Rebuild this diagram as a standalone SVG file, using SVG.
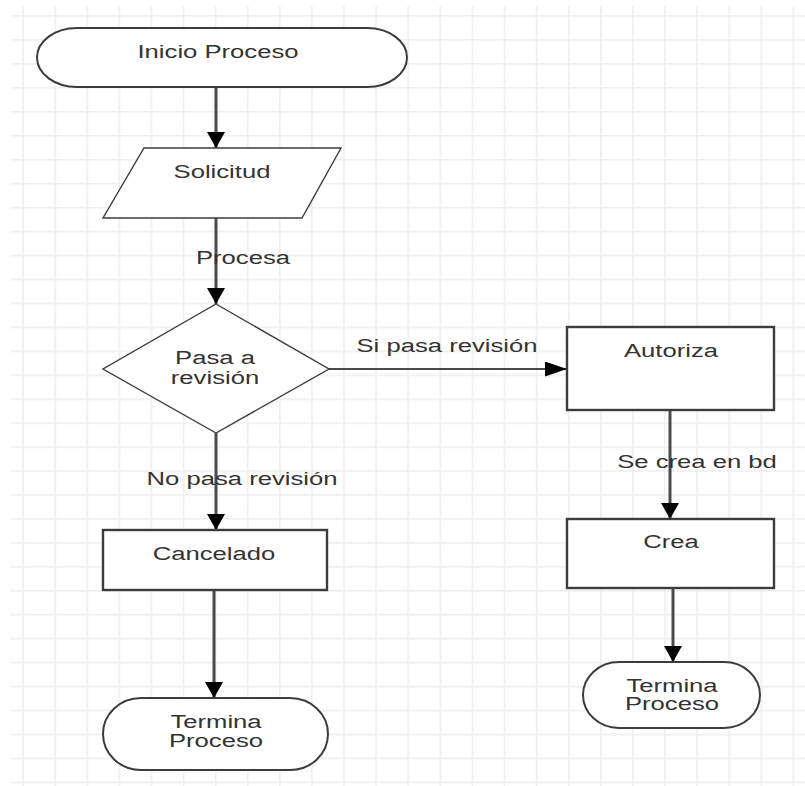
<svg xmlns="http://www.w3.org/2000/svg" width="805" height="786" viewBox="0 0 805 786">
  <style>
    .shape { fill: #ffffff; stroke: #3c3c3c; }
    .box { stroke-width: 2.4; }
    .term { stroke-width: 2; }
    .thin { stroke-width: 1.4; }
    .label { font-family: "Liberation Sans", Arial, sans-serif; font-size: 19px; fill: #333333; text-anchor: middle; }
    .edge { fill: none; stroke: #4a4a4a; }
    .v { stroke-width: 3; }
    .h { stroke-width: 2; }
  </style>
  <defs>
    <pattern id="grid" patternUnits="userSpaceOnUse" x="22.2" y="15.2" width="32.1" height="23.95">
      <rect x="0" y="0" width="1.6" height="23.95" fill="#eeeeee"/>
      <rect x="0" y="0" width="32.1" height="1.6" fill="#eeeeee"/>
    </pattern>
    <marker id="arrowV" markerUnits="userSpaceOnUse" markerWidth="16" markerHeight="18" refX="16" refY="9" orient="auto">
      <path d="M0,0 L16,9 L0,18 Z" fill="#000000"/>
    </marker>
    <marker id="arrowH" markerUnits="userSpaceOnUse" markerWidth="22" markerHeight="15" refX="22" refY="7.5" orient="auto">
      <path d="M0,0 L22,7.5 L0,15 Z" fill="#000000"/>
    </marker>
  </defs>

  <!-- background and grid -->
  <rect x="0" y="0" width="805" height="786" fill="#ffffff"/>
  <rect x="11" y="6" width="794" height="780" fill="url(#grid)"/>

  <!-- connectors -->
  <g id="connectors">
    <path class="edge v" d="M216,87 L216,148" marker-end="url(#arrowV)"/>
    <path class="edge v" d="M216,218 L216,304" marker-end="url(#arrowV)"/>
    <path class="edge h" d="M329,369 L567,369" marker-end="url(#arrowH)"/>
    <path class="edge v" d="M216,433 L216,530" marker-end="url(#arrowV)"/>
    <path class="edge v" d="M670,410 L670,519" marker-end="url(#arrowV)"/>
    <path class="edge v" d="M673,588 L673,662" marker-end="url(#arrowV)"/>
    <path class="edge v" d="M214,590 L214,698" marker-end="url(#arrowV)"/>
    <text class="label" transform="translate(243,264) scale(1.35,1)">Procesa</text>
    <text class="label" transform="translate(447,352) scale(1.35,1)">Si pasa revisión</text>
    <text class="label" transform="translate(242,485) scale(1.35,1)">No pasa revisión</text>
    <text class="label" transform="translate(697,468) scale(1.35,1)">Se crea en bd</text>
  </g>

  <!-- nodes -->
  <g id="inicio">
    <rect class="shape term" x="37" y="28" width="370" height="59" rx="40" ry="29.5"/>
    <text class="label" transform="translate(218,58) scale(1.35,1)">Inicio Proceso</text>
  </g>

  <g id="solicitud">
    <polygon class="shape thin" points="144,148 341,148 302,218 103,218"/>
    <text class="label" transform="translate(222,178) scale(1.35,1)">Solicitud</text>
  </g>

  <g id="revision">
    <polygon class="shape thin" points="216,304 329,369 216,433 103,369"/>
    <text class="label" transform="translate(215,364) scale(1.35,1)"><tspan x="0" y="0">Pasa a</tspan><tspan x="0" y="20">revisión</tspan></text>
  </g>

  <g id="autoriza">
    <rect class="shape box" x="567" y="327" width="207" height="83"/>
    <text class="label" transform="translate(671,357) scale(1.35,1)">Autoriza</text>
  </g>

  <g id="crea">
    <rect class="shape box" x="567" y="519" width="207" height="69"/>
    <text class="label" transform="translate(671,548) scale(1.35,1)">Crea</text>
  </g>

  <g id="termina-crea">
    <rect class="shape term" x="583" y="662" width="177" height="66" rx="36" ry="33"/>
    <text class="label" transform="translate(672,691.5) scale(1.35,1)"><tspan x="0" y="0">Termina</tspan><tspan x="0" y="19">Proceso</tspan></text>
  </g>

  <g id="cancelado">
    <rect class="shape box" x="103" y="530" width="224" height="60"/>
    <text class="label" transform="translate(214,560) scale(1.35,1)">Cancelado</text>
  </g>

  <g id="termina-cancelado">
    <rect class="shape term" x="103" y="698" width="225" height="72" rx="38" ry="36"/>
    <text class="label" transform="translate(216,728) scale(1.35,1)"><tspan x="0" y="0">Termina</tspan><tspan x="0" y="19">Proceso</tspan></text>
  </g>
</svg>
